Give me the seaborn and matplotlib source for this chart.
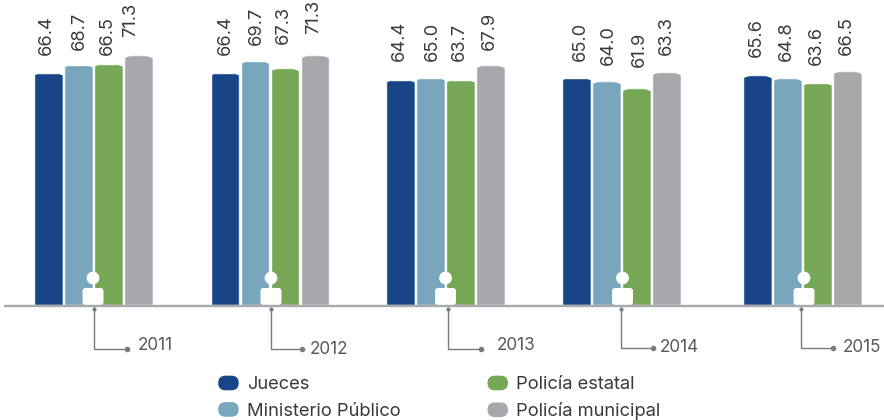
"""Confianza por autoridad, 2011-2015: grouped bars with person icons and year callouts."""

from __future__ import annotations

import matplotlib

matplotlib.use("Agg")
import matplotlib.pyplot as plt
import numpy as np
import pandas as pd
import seaborn as sns
from matplotlib.legend_handler import HandlerPatch
from matplotlib.patches import Circle, FancyBboxPatch
from matplotlib.path import Path

YEARS = ["2011", "2012", "2013", "2014", "2015"]
SERIES = ["Jueces", "Ministerio Público", "Policía estatal", "Policía municipal"]

# bar heights as drawn in the picture (a few differ from the printed label)
JUECES = [66.4, 66.4, 64.4, 65.0, 65.6]
MINISTERIO = [68.7, 69.7, 65.0, 63.9, 64.8]
ESTATAL = [68.9, 67.6, 64.4, 61.9, 63.5]
MUNICIPAL = [71.3, 71.3, 68.5, 66.5, 66.8]

# printed labels
LABELS_JUECES = ["66.4", "66.4", "64.4", "65.0", "65.6"]
LABELS_MINISTERIO = ["68.7", "69.7", "65.0", "64.0", "64.8"]
LABELS_ESTATAL = ["66.5", "67.3", "63.7", "61.9", "63.6"]
LABELS_MUNICIPAL = ["71.3", "71.3", "67.9", "63.3", "66.5"]

COLORS = ["#174588", "#78a6bc", "#75a754", "#a7a8ab"]
TEXT_DARK = "#3a3a3c"
TEXT_YEAR = "#58595b"
LINE_GREY = "#7a7b7e"
FONT = "Inter"

W, H = 884, 420
BASE_Y = 305
PX_PER_UNIT = 3.5
FIRST_CENTRE, LAST_CENTRE = 93.5, 802.5
GROUP_SHIFT = [0, -0.75, -2.5, -3.75, 0]  # groups are not quite evenly spaced

# layout of the value labels, pixels: (x centre, y bottom) per year, per series
LABEL_POS = [
    [(46.5, 55), (225, 55), (399, 61), (580, 61), (756, 57)],
    [(79, 50), (256.5, 45), (432.5, 61), (608, 65), (786, 61)],
    [(107, 55), (283, 44), (459, 61), (639, 67), (816.5, 65)],
    [(131, 37), (314, 34), (489, 50), (666, 55), (846, 55)],
]
# callouts, pixels: x, elbow y, end x, label x, label y
CALLOUTS = [
    (94, 349, 126.5, 138, 345),
    (271, 349, 302, 310, 349),
    (448, 349, 481, 497, 346),
    (621, 348, 653, 660, 347),
    (801, 347.5, 833, 843, 348),
]
ICON_X = [93, 271, 445.5, 622.5, 804]


class PillHandler(HandlerPatch):
    def create_artists(self, legend, orig_handle, xdescent, ydescent, width, height, fontsize, trans):
        r = height / 2
        pill = FancyBboxPatch(
            (r - xdescent, r - ydescent),
            width - 2 * r,
            0.01,
            boxstyle=f"round,pad={r - 0.005},rounding_size={r}",
            facecolor=orig_handle.get_facecolor(),
            edgecolor="none",
            transform=trans,
        )
        return [pill]


def round_top(bar, ax, depth_px=3.0):
    """Clip the top of a bar to a shallow arc."""
    x0, w, top = bar.get_x(), bar.get_width(), bar.get_height()
    t = np.linspace(-1, 1, 41)
    xs = x0 + (t + 1) / 2 * w
    ys = top - depth_px / PX_PER_UNIT * np.abs(t) ** 2.6
    verts = [(x0, 0)] + list(zip(xs, ys)) + [(x0 + w, 0), (x0, 0)]
    bar.set_clip_path(Path(verts), ax.transData)


def main() -> None:
    sns.set_theme(style="white")
    plt.rcParams["font.family"] = [FONT, "DejaVu Sans"]

    df = pd.DataFrame(
        {
            "year": YEARS * 4,
            "series": [s for s in SERIES for _ in YEARS],
            "value": JUECES + MINISTERIO + ESTATAL + MUNICIPAL,
        }
    )

    fig = plt.figure(figsize=(W / 100, H / 100), dpi=100)
    ax = fig.add_axes([0, 0, 1, 1])
    spacing = (LAST_CENTRE - FIRST_CENTRE) / 4

    sns.barplot(
        data=df,
        x="year",
        y="value",
        hue="series",
        order=YEARS,
        hue_order=SERIES,
        palette=COLORS,
        width=120 / spacing,
        gap=0.045,
        saturation=1,
        errorbar=None,
        ax=ax,
    )
    ax.set_xlim(-FIRST_CENTRE / spacing, (W - FIRST_CENTRE) / spacing)
    ax.set_ylim(-(H - BASE_Y) / PX_PER_UNIT, BASE_Y / PX_PER_UNIT)
    ax.set_axis_off()

    for container in ax.containers:
        for i, bar in enumerate(container):
            bar.set_x(bar.get_x() + GROUP_SHIFT[i] / spacing)
            round_top(bar, ax)

    handles, labels = ax.get_legend_handles_labels()
    ax.get_legend().remove()
    ax.legend(
        handles,
        labels,
        handler_map={type(handles[0]): PillHandler()},
        ncols=2,
        frameon=False,
        loc="upper left",
        bbox_to_anchor=(203.5 / W, 1 - 361 / H),
        prop={"family": FONT, "size": 13.2},
        labelcolor=TEXT_DARK,
        handlelength=1.12,
        handleheight=0.85,
        handletextpad=0.44,
        labelspacing=0.48,
        columnspacing=4.75,
        borderpad=0.3,
    )

    # overlay in pixel coordinates for the decoration
    over = fig.add_axes([0, 0, 1, 1], facecolor="none")
    over.set_xlim(0, W)
    over.set_ylim(H, 0)
    over.set_axis_off()

    over.plot([4, W], [306, 306], color="#a7a9ac", lw=1.7, solid_capstyle="butt")

    printed = [LABELS_JUECES, LABELS_MINISTERIO, LABELS_ESTATAL, LABELS_MUNICIPAL]
    for series_labels, positions in zip(printed, LABEL_POS):
        for text, (x, y) in zip(series_labels, positions):
            over.text(
                x, y, text, rotation=90, ha="center", va="bottom",
                fontsize=13.2, color=TEXT_DARK, family=FONT,
            )

    for year, (x, elbow, end, lx, ly), ix in zip(YEARS, CALLOUTS, ICON_X):
        over.plot([x, x, end], [309, elbow, elbow], color=LINE_GREY, lw=1.0)
        over.plot([x], [309], "o", ms=3, color=LINE_GREY, mew=0)
        over.plot([end], [elbow], "o", ms=4, color=LINE_GREY, mew=0)
        over.text(lx, ly, year, ha="left", va="center", fontsize=12.3, color=TEXT_YEAR, family=FONT)
        # person icon
        over.add_patch(Circle((ix, 278), 6.4, facecolor="white", edgecolor="none"))
        over.add_patch(
            FancyBboxPatch(
                (ix - 8.5, 290), 17, 13,
                boxstyle="round,pad=2,rounding_size=3",
                facecolor="white", edgecolor="none",
            )
        )

    fig.savefig("out.png", dpi=100, facecolor="white")
    plt.close(fig)


if __name__ == "__main__":
    main()
